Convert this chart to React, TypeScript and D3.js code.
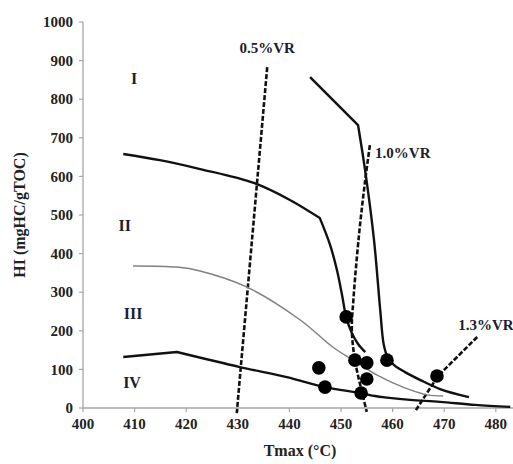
import React from "react";
import * as d3 from "d3";

const W = 513;
const H = 464;

const xTicks = [400, 410, 420, 430, 440, 450, 460, 470, 480];
const yTicks = [0, 100, 200, 300, 400, 500, 600, 700, 800, 900, 1000];

const curveI_T = [444.0, 453.3, 454.8, 456.4, 457.6, 458.3, 459.1, 460.3, 462.4, 465.3, 469.2, 474.8];
const curveI_HI = [857, 733, 604, 435, 254, 163, 130, 111, 93, 73, 49, 28];
const curveI_corners = [1];

const curveII_T = [407.8, 414.9, 422.7, 433.1, 440.1, 445.9, 447.9, 449.2, 450.2, 451.0, 452.1, 453.3, 454.7];
const curveII_HI = [658, 642, 619, 583, 539, 492, 422, 358, 293, 236, 194, 166, 145];
const curveII_corners = [5];

const curveIII_T = [409.7, 418.2, 422.7, 431.8, 442.1, 448.4, 452.3, 457.0, 462.0, 466.7, 469.8];
const curveIII_HI = [368, 365, 355, 313, 228, 158, 124, 85, 54, 34, 31];
const curveIII_corners: number[] = [];

const curveIV_T = [407.8, 418.2, 430.4, 439.5, 446.9, 453.7, 456.6, 458.9, 463.4, 469.2, 476.0, 482.8];
const curveIV_HI = [132, 145, 106, 80, 54, 39, 31, 27, 21, 16, 8, 3];
const curveIV_corners = [1];

const vr05_T = [435.7, 429.8];
const vr05_HI = [883, -13];
const vr10_T = [455.6, 454.7, 453.5, 452.4, 452.1, 452.7, 454.1, 455.0];
const vr10_HI = [681, 591, 450, 280, 202, 124, 39, -10];
const vr13_T = [476.4, 468.8, 464.3];
const vr13_HI = [184, 83, -10];

const samples_T = [451.0, 445.7, 446.9, 452.7, 455.0, 455.0, 453.9, 458.9, 468.6];
const samples_HI = [236, 104, 54, 124, 117, 75, 39, 124, 83];

const typeLabels = ["I", "II", "III", "IV"];
const typeLabel_T = [409.9, 408.1, 409.7, 409.5];
const typeLabel_HI = [855, 474, 246, 67];

const vrLabels = ["0.5%VR", "1.0%VR", "1.3%VR"];
const vrLabel_T = [435.7, 456.6, 472.7];
const vrLabel_HI = [933, 661, 215];
const vrLabelAnchor = ["middle", "start", "start"];

export default function App() {
  const x = d3.scaleLinear().domain([400, 485]).range([83, 83 + 85 * 5.16]);
  const y = d3.scaleLinear().domain([0, 1000]).range([408, 22]);

  const toPts = (ts: number[], hs: number[]) => ts.map((t, i) => [t, hs[i]] as [number, number]);
  const smooth = d3
    .line<[number, number]>()
    .x((d) => x(d[0]))
    .y((d) => y(d[1]))
    .curve(d3.curveCatmullRom.alpha(0.5));
  const straight = d3
    .line<[number, number]>()
    .x((d) => x(d[0]))
    .y((d) => y(d[1]));

  // smooth curve with sharp corners at given indices
  const cornered = (ts: number[], hs: number[], corners: number[]) => {
    const pts = toPts(ts, hs);
    const cuts = [0, ...corners, pts.length - 1];
    let d = "";
    for (let i = 0; i < cuts.length - 1; i++) {
      const seg = pts.slice(cuts[i], cuts[i + 1] + 1);
      const p = (seg.length > 2 ? smooth(seg) : straight(seg)) || "";
      d += i === 0 ? p : "L" + p.slice(1);
    }
    return d;
  };

  const font = "'Liberation Serif', 'Times New Roman', serif";
  const textCol = "#222";
  const labCol = "#1c1c30";

  return (
    <svg
      width={W}
      height={H}
      style={{ position: "absolute", left: 0, top: 0, background: "#fff" }}
      fontFamily={font}
    >
      <rect width={W} height={H} fill="#fff" />
      {/* axes */}
      <line x1={x(400)} x2={x(400)} y1={y(0)} y2={y(1000)} stroke="#a6a6a6" strokeWidth={1.3} />
      <line x1={x(400)} x2={W} y1={y(0)} y2={y(0)} stroke="#a6a6a6" strokeWidth={1.3} />
      {yTicks.map((t) => (
        <g key={"y" + t}>
          <line x1={x(400) - 4} x2={x(400)} y1={y(t)} y2={y(t)} stroke="#a6a6a6" strokeWidth={1.2} />
          <text
            x={x(400) - 10}
            y={y(t)}
            dy="0.35em"
            textAnchor="end"
            fontSize={15}
            fontWeight="bold"
            fill={textCol}
          >
            {t}
          </text>
        </g>
      ))}
      {xTicks.map((t) => (
        <g key={"x" + t}>
          <line x1={x(t)} x2={x(t)} y1={y(0)} y2={y(0) + 4} stroke="#a6a6a6" strokeWidth={1.2} />
          <text
            x={x(t)}
            y={y(0) + 21}
            textAnchor="middle"
            fontSize={15}
            fontWeight="bold"
            fill={textCol}
          >
            {t}
          </text>
        </g>
      ))}
      <text x={300} y={456} textAnchor="middle" fontSize={16} fontWeight="bold" fill={textCol}>
        Tmax (°C)
      </text>
      <text
        transform={`translate(25,${215}) rotate(-90)`}
        textAnchor="middle"
        fontSize={16}
        fontWeight="bold"
        fill={textCol}
      >
        HI (mgHC/gTOC)
      </text>

      {/* dashed VR lines */}
      <path d={straight(toPts(vr05_T, vr05_HI)) || ""} fill="none" stroke="#111" strokeWidth={2.6} strokeDasharray="5,2" />
      <path d={smooth(toPts(vr10_T, vr10_HI)) || ""} fill="none" stroke="#111" strokeWidth={2.6} strokeDasharray="5,2" />
      <path d={straight(toPts(vr13_T, vr13_HI)) || ""} fill="none" stroke="#111" strokeWidth={2.6} strokeDasharray="5,2" />

      {/* type curves */}
      <path d={cornered(curveIII_T, curveIII_HI, curveIII_corners)} fill="none" stroke="#808080" strokeWidth={1.5} />
      <path d={cornered(curveI_T, curveI_HI, curveI_corners)} fill="none" stroke="#111" strokeWidth={2.4} strokeLinejoin="round" />
      <path d={cornered(curveII_T, curveII_HI, curveII_corners)} fill="none" stroke="#111" strokeWidth={2.4} strokeLinejoin="round" />
      <path d={cornered(curveIV_T, curveIV_HI, curveIV_corners)} fill="none" stroke="#111" strokeWidth={2.4} strokeLinejoin="round" />

      {/* samples */}
      {samples_T.map((t, i) => (
        <circle key={"s" + i} cx={x(t)} cy={y(samples_HI[i])} r={6.8} fill="#000" />
      ))}

      {/* labels */}
      {typeLabels.map((l, i) => (
        <text
          key={"t" + l}
          x={x(typeLabel_T[i])}
          y={y(typeLabel_HI[i])}
          dy="0.35em"
          textAnchor="middle"
          fontSize={16}
          fontWeight="bold"
          fill={labCol}
        >
          {l}
        </text>
      ))}
      {vrLabels.map((l, i) => (
        <text
          key={"v" + l}
          x={x(vrLabel_T[i])}
          y={y(vrLabel_HI[i])}
          dy="0.35em"
          textAnchor={vrLabelAnchor[i] as any}
          fontSize={15}
          fontWeight="bold"
          fill={labCol}
        >
          {l}
        </text>
      ))}
    </svg>
  );
}
